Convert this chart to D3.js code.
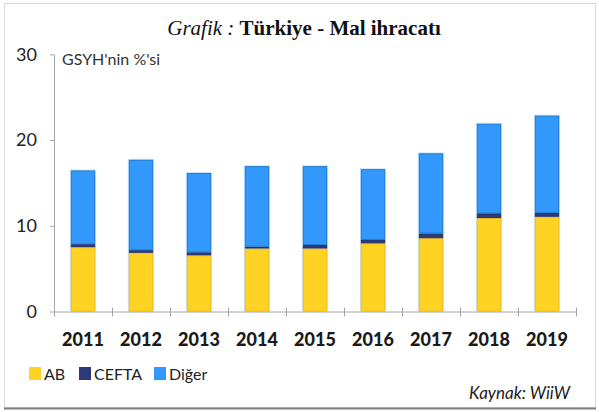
<!DOCTYPE html>
<html>
<head>
<meta charset="utf-8">
<script src="https://cdn.jsdelivr.net/npm/d3@7"></script>
<style>
  body { margin: 0; background: #fff; }
  svg { display: block; }
</style>
</head>
<body>
<div id="chart"></div>
<script>
// veriler (GSYH'nin %'si)
const years = ["2011", "2012", "2013", "2014", "2015", "2016", "2017", "2018", "2019"];
const ab    = [7.5, 6.85, 6.55, 7.35, 7.35, 7.95, 8.55, 10.9, 11.05];
const cefta = [0.35, 0.3, 0.35, 0.2, 0.4, 0.4, 0.55, 0.55, 0.45];
const diger = [8.6, 10.55, 9.25, 9.4, 9.2, 8.25, 9.35, 10.45, 11.35];
const yTicks = [0, 10, 20, 30];
const seriesNames = ["AB", "CEFTA", "Diğer"];

const width = 599, height = 412;
const plotLeft = 54, plotRight = 576, plotTop = 54.3, plotBottom = 311.5;

const fills   = { "AB": "#ffd324", "CEFTA": "#2f3878", "Diğer": "#3398fb" };
const strokes = { "AB": "#f4bf10", "CEFTA": "#26306a", "Diğer": "#1b7bd4" };

const svg = d3.select("#chart")
  .append("svg")
  .attr("width", width)
  .attr("height", height);

// cerceve
svg.append("rect")
  .attr("x", 4.5).attr("y", 3.5)
  .attr("width", 591).attr("height", 404)
  .attr("fill", "#fff")
  .attr("stroke", "#d9d9d9");
svg.append("line")
  .attr("x1", 4).attr("x2", 596)
  .attr("y1", 408.5).attr("y2", 408.5)
  .attr("stroke", "#7f7f7f")
  .attr("stroke-width", 2);

// baslik
const title = svg.append("text")
  .attr("x", 304)
  .attr("y", 35)
  .attr("text-anchor", "middle")
  .style("font-family", "'Liberation Serif', 'Times New Roman', serif")
  .style("font-size", "21px")
  .attr("fill", "#111");
title.append("tspan").style("font-style", "italic").text("Grafik : ");
title.append("tspan").style("font-weight", "bold").text("Türkiye - Mal ihracatı");

//============ scales ============
const x = d3.scaleBand()
  .domain(years)
  .range([plotLeft, plotRight])
  .paddingInner(0.58)
  .paddingOuter(0.29);

const y = d3.scaleLinear()
  .domain([0, 30])
  .range([plotBottom, plotTop]);

//============ Y axis ============
const yAxis = svg.append("g")
  .attr("transform", `translate(${plotLeft}, 0)`)
  .call(d3.axisLeft(y).tickValues(yTicks).tickSize(4).tickSizeOuter(0).tickPadding(13));
yAxis.select(".domain").attr("stroke", "#a6a6a6");
yAxis.selectAll(".tick line").attr("stroke", "#a6a6a6");
yAxis.selectAll(".tick text")
  .style("font-family", "Lato, 'Open Sans', sans-serif")
  .style("font-size", "18px")
  .attr("fill", "#222");

svg.append("text")
  .attr("x", 62)
  .attr("y", 65)
  .style("font-family", "Lato, 'Open Sans', sans-serif")
  .style("font-size", "16px")
  .attr("fill", "#333")
  .text("GSYH'nin %'si");

//============ stacked bars ============
const table = years.map((yr, i) => ({ year: yr, "AB": ab[i], "CEFTA": cefta[i], "Diğer": diger[i] }));
const stacked = d3.stack().keys(seriesNames)(table);

// light halo round each bar
svg.append("g")
  .selectAll("rect")
  .data(table)
  .join("rect")
  .attr("x", (d) => x(d.year) - 1)
  .attr("y", (d) => y(d["AB"] + d["CEFTA"] + d["Diğer"]) - 1)
  .attr("width", x.bandwidth() + 2)
  .attr("height", (d) => y(0) - y(d["AB"] + d["CEFTA"] + d["Diğer"]) + 1)
  .attr("fill", "#cfe3f7");

svg.append("g")
  .selectAll("g")
  .data(stacked)
  .join("g")
  .attr("fill", (s) => fills[s.key])
  .attr("stroke", (s) => strokes[s.key])
  .selectAll("rect")
  .data((s) => s)
  .join("rect")
  .attr("x", (d) => x(d.data.year) + 0.5)
  .attr("y", (d) => y(d[1]) + 0.5)
  .attr("width", x.bandwidth() - 1)
  .attr("height", (d) => Math.max(0, y(d[0]) - y(d[1]) - 1));

//============ X axis ============
const xAxis = svg.append("g");
xAxis.append("line")
  .attr("x1", plotLeft).attr("x2", plotRight)
  .attr("y1", y(0) + 0.5).attr("y2", y(0) + 0.5)
  .attr("stroke", "#a6a6a6");

// ticks between categories
const bounds = years.map((yr) => x(yr) - x.step() * x.paddingOuter()).concat([plotRight]);
xAxis.selectAll(".bt")
  .data(bounds)
  .join("line")
  .attr("class", "bt")
  .attr("x1", (d) => Math.round(d) + 0.5).attr("x2", (d) => Math.round(d) + 0.5)
  .attr("y1", y(0) - 4).attr("y2", y(0) + 5)
  .attr("stroke", "#a6a6a6");

xAxis.selectAll(".yl")
  .data(years)
  .join("text")
  .attr("class", "yl")
  .attr("x", (d) => x(d) + x.bandwidth() / 2)
  .attr("y", 346)
  .attr("text-anchor", "middle")
  .style("font-family", "Lato, 'Open Sans', sans-serif")
  .style("font-size", "18px")
  .style("font-weight", "900")
  .attr("fill", "#1a1a1a")
  .text((d) => d);

//============ legend ============
const legendX = [29, 79, 154];
const legend = svg.append("g")
  .selectAll("g")
  .data(seriesNames)
  .join("g")
  .attr("transform", (d, i) => `translate(${legendX[i]}, 367)`);
legend.append("rect")
  .attr("width", 12).attr("height", 13)
  .attr("fill", (d) => fills[d]);
legend.append("text")
  .attr("x", 15)
  .attr("y", 13)
  .style("font-family", "Lato, 'Open Sans', sans-serif")
  .style("font-size", "16px")
  .attr("fill", "#222")
  .text((d) => d);

// kaynak
svg.append("text")
  .attr("x", 570)
  .attr("y", 399)
  .attr("text-anchor", "end")
  .style("font-family", "Lato, 'Open Sans', sans-serif")
  .style("font-size", "17px")
  .style("font-style", "italic")
  .attr("fill", "#222")
  .text("Kaynak: WiiW");
</script>
</body>
</html>
